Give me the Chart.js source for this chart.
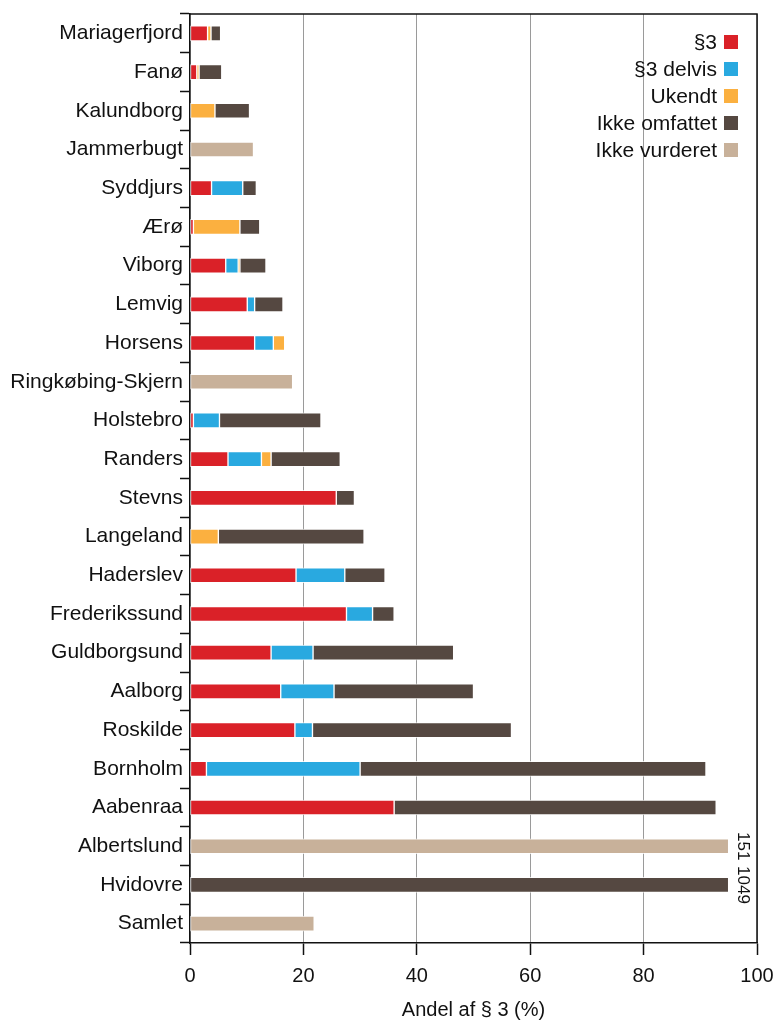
<!DOCTYPE html>
<html>
<head>
<meta charset="utf-8">
<script src="https://cdn.jsdelivr.net/npm/chart.js@4"></script>
<style>
  html, body { margin: 0; padding: 0; background: #fff; }
  #wrap { width: 779px; height: 1023px; }
</style>
</head>
<body>
<div id="wrap"><canvas id="c" width="779" height="1023"></canvas></div>
<script>
const categories = ["Mariagerfjord", "Fanø", "Kalundborg", "Jammerbugt", "Syddjurs", "Ærø", "Viborg", "Lemvig", "Horsens", "Ringkøbing-Skjern", "Holstebro", "Randers", "Stevns", "Langeland", "Haderslev", "Frederikssund", "Guldborgsund", "Aalborg", "Roskilde", "Bornholm", "Aabenraa", "Albertslund", "Hvidovre", "Samlet"];

const seriesNames = ["§3", "§3 delvis", "Ukendt", "Ikke omfattet", "Ikke vurderet"];

const par3          = [3.1, 1.2, 0, 0, 3.8, 0.6, 6.3, 10.1, 11.4, 0, 0.6, 6.7, 25.8, 0, 18.7, 27.6, 14.3, 16.0, 18.5, 2.9, 36.0, 0, 0, 0];
const par3Delvis    = [0, 0, 0, 0, 5.5, 0, 2.2, 1.3, 3.3, 0, 4.6, 5.9, 0, 0, 8.6, 4.6, 7.4, 9.4, 3.1, 27.1, 0, 0, 0, 0];
const ukendt        = [0.6, 0.4, 4.4, 0, 0, 8.2, 0.3, 0, 2.0, 0, 0, 1.7, 0, 5.0, 0, 0, 0, 0, 0, 0, 0, 0, 0, 0];
const ikkeOmfattet  = [1.7, 4.0, 6.1, 0, 2.4, 3.5, 4.6, 5.0, 0, 0, 17.9, 12.2, 3.2, 25.7, 7.1, 3.8, 24.8, 24.6, 35.1, 61.0, 56.8, 0, 1049, 0];
const ikkeVurderet  = [0, 0, 0, 11.2, 0, 0, 0, 0, 0, 18.1, 0, 0, 0, 0, 0, 0, 0, 0, 0, 0, 0, 151, 0, 21.9];

const xTicks = [0, 20, 40, 60, 80, 100];
const displayCap = 95; // bars beyond the axis are cut here and labelled with their value

const colors = ["#da2128", "#29a9e0", "#fbb040", "#554841", "#c8b19a"];
const seriesData = [par3, par3Delvis, ukendt, ikkeOmfattet, ikkeVurderet];

const FONT = "'Liberation Sans', Arial, Helvetica, sans-serif";

const datasets = seriesData.map((arr, i) => ({
  label: seriesNames[i],
  data: arr.map(v => v === 0 ? null : Math.min(v, displayCap)),
  rawData: arr,
  backgroundColor: colors[i],
  borderColor: "rgba(255,255,255,0.75)",
  borderWidth: 1,
  borderSkipped: false,
  barThickness: 15
}));

const framePlugin = {
  id: "frame",
  afterDraw(chart) {
    const ctx = chart.ctx, a = chart.chartArea;
    ctx.save();
    ctx.strokeStyle = "#111";
    ctx.lineWidth = 1.5;
    ctx.beginPath();
    ctx.moveTo(a.left, a.top);
    ctx.lineTo(a.right, a.top);
    ctx.lineTo(a.right, a.bottom);
    ctx.stroke();

    // legend (right aligned, box to the right of text)
    ctx.font = "21px " + FONT;
    ctx.textAlign = "right";
    ctx.textBaseline = "middle";
    const boxR = a.right - 19, box = 14;
    chart.data.datasets.forEach((ds, i) => {
      const cy = a.top + 28 + i * 27;
      ctx.fillStyle = ds.backgroundColor;
      ctx.fillRect(boxR - box, cy - box / 2, box, box);
      ctx.fillStyle = "#111";
      ctx.fillText(ds.label, boxR - box - 7, cy + 1);
    });

    // values of bars cut at the cap
    const yScale = chart.scales.y;
    ctx.font = "17px " + FONT;
    ctx.textAlign = "center";
    ctx.textBaseline = "middle";
    ctx.fillStyle = "#111";
    chart.data.labels.forEach((lab, idx) => {
      let total = 0;
      chart.data.datasets.forEach(ds => { total += ds.rawData[idx] || 0; });
      if (total > displayCap) {
        const y = yScale.getPixelForValue(idx);
        ctx.save();
        ctx.translate(a.right - 14, y);
        ctx.rotate(Math.PI / 2);
        ctx.fillText(String(Math.round(total)), 0, 0);
        ctx.restore();
      }
    });
    ctx.restore();
  }
};

new Chart(document.getElementById("c"), {
  type: "bar",
  data: { labels: categories, datasets },
  options: {
    indexAxis: "y",
    responsive: false,
    animation: false,
    layout: { padding: { top: 14, right: 22, bottom: 0, left: 0 } },
    plugins: {
      legend: { display: false },
      tooltip: { enabled: false }
    },
    scales: {
      x: {
        stacked: true,
        min: 0,
        max: 100,
        afterBuildTicks(s) { s.ticks = xTicks.map(v => ({ value: v })); },
        afterFit(s) { s.height = 80; s.paddingRight = 0; s.paddingLeft = 0; },
        ticks: {
          font: { family: FONT, size: 20 },
          color: "#111",
          padding: 9
        },
        grid: {
          color: "#9a9a9a",
          lineWidth: 1,
          tickColor: "#111",
          tickLength: 12,
          tickWidth: 1.5
        },
        border: { color: "#111", width: 1.5 },
        title: {
          display: true,
          text: "Andel af § 3 (%)",
          font: { family: FONT, size: 20 },
          color: "#111",
          padding: { top: 0, bottom: 1 }
        }
      },
      y: {
        stacked: true,
        afterFit(s) { s.width = 190; },
        ticks: {
          font: { family: FONT, size: 21 },
          color: "#111",
          padding: -3,
          autoSkip: false
        },
        grid: {
          drawOnChartArea: false,
          tickColor: "#111",
          tickLength: 10,
          tickWidth: 1.5,
          offset: true
        },
        border: { color: "#111", width: 1.5 }
      }
    }
  },
  plugins: [framePlugin]
});
</script>
</body>
</html>
